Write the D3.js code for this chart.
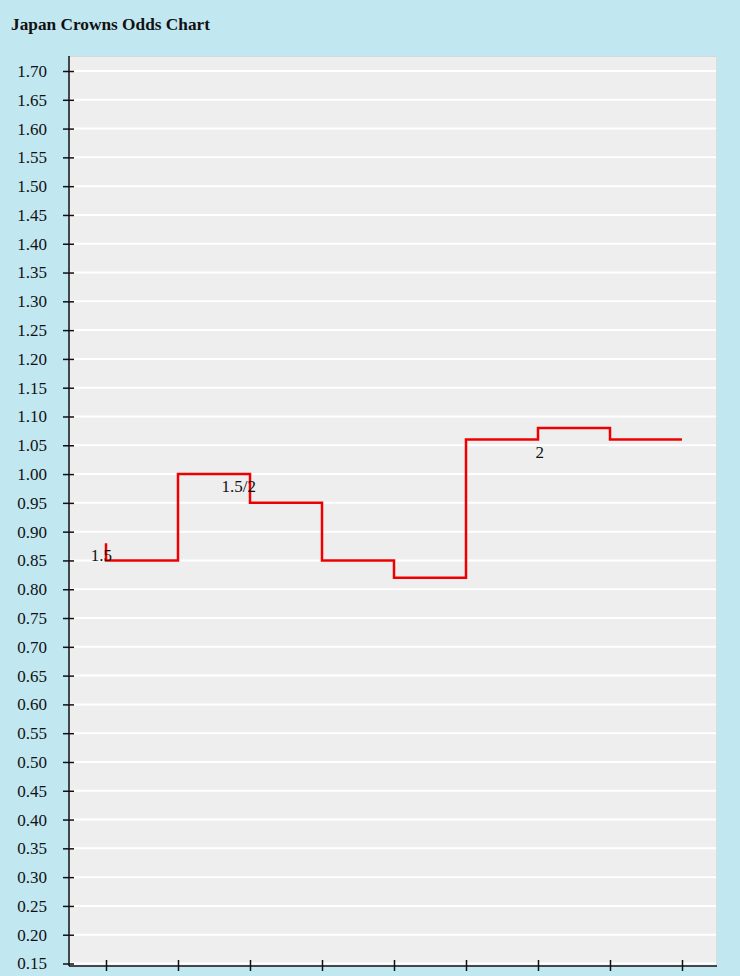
<!DOCTYPE html>
<html><head><meta charset="utf-8">
<script src="https://cdn.jsdelivr.net/npm/d3@7"></script>
<style>
html,body{margin:0;padding:0;background:#c1e7f1;}
svg{display:block;}
</style></head>
<body>
<svg id="chart" width="740" height="976"></svg>
<script>
const title = "Japan Crowns Odds Chart";
const categories = [0, 1, 2, 3, 4, 5, 6, 7, 8];
const odds = [0.88, 0.85, 1.00, 0.95, 0.85, 0.82, 1.06, 1.08, 1.06];
const handicapLabels = ["1.5", "", "1.5/2", "", "", "", "2", "", ""];
const yTicks = d3.range(0.15, 1.7001, 0.05).map(v => +v.toFixed(2));

(function () {
const svg = d3.select("#chart");
const pLeft = 69, pRight = 717, pTop = 56, pBottom = 966;

const x = d3.scalePoint().domain(categories).range([pLeft + 1, pRight + 1]).padding(0.5);
const y = d3.scaleLinear().domain([0.15, 1.70]).range([963.5, 71]);

svg.append("text").attr("x", 11).attr("y", 30)
  .attr("font-family", "Liberation Serif").attr("font-weight", "bold")
  .attr("font-size", 17.3).attr("fill", "#111").text(title);

// plot background
svg.append("rect").attr("x", pLeft).attr("y", pTop).attr("width", pRight - pLeft).attr("height", pBottom - pTop)
  .attr("fill", "#eeeeee");
svg.append("line").attr("x1", pLeft).attr("x2", pRight).attr("y1", pTop + 0.5).attr("y2", pTop + 0.5)
  .attr("stroke", "#d4d8da").attr("stroke-width", 1);
svg.append("line").attr("x1", pRight - 0.5).attr("x2", pRight - 0.5).attr("y1", pTop).attr("y2", pBottom)
  .attr("stroke", "#dcdcdc").attr("stroke-width", 1);

// grid
svg.append("g").selectAll("line").data(yTicks).join("line")
  .attr("x1", pLeft).attr("x2", pRight - 1)
  .attr("y1", d => y(d)).attr("y2", d => y(d))
  .attr("stroke", "#ffffff").attr("stroke-width", 2);

// y axis
const yAxis = svg.append("g").attr("transform", `translate(${pLeft},0)`)
  .call(d3.axisLeft(y).tickValues(yTicks).tickFormat(d3.format(".2f")).tickSize(6).tickPadding(16).tickSizeOuter(0));
yAxis.select(".domain").attr("d", `M0,${pTop}V${pBottom}`).attr("stroke", "#111").attr("stroke-width", 1.5);
yAxis.selectAll(".tick line").attr("x1", 5).attr("x2", -6).attr("stroke", "#111").attr("stroke-width", 1.5);
yAxis.selectAll(".tick text").attr("font-family", "Liberation Serif").attr("font-size", 17).attr("fill", "#111");

// x axis
const xAxis = svg.append("g").attr("transform", `translate(0,${pBottom})`)
  .call(d3.axisBottom(x).tickFormat("").tickSize(6).tickSizeOuter(0));
xAxis.select(".domain").attr("d", `M${pLeft},0H${pRight}`).attr("stroke", "#111").attr("stroke-width", 1.5);
xAxis.selectAll(".tick line").attr("y1", -6).attr("y2", 5).attr("stroke", "#111").attr("stroke-width", 1.5);

// step line
const line = d3.line().x((d, i) => x(categories[i])).y(d => y(d)).curve(d3.curveStepBefore);
svg.append("path").datum(odds).attr("d", line)
  .attr("fill", "none").attr("stroke", "#ee0000").attr("stroke-width", 2.5);

// handicap labels
svg.append("g").selectAll("text").data(odds.map((v, i) => ({v, i, t: handicapLabels[i]})).filter(d => d.t))
  .join("text")
  .attr("x", d => x(categories[d.i]) + 6).attr("y", d => y(d.v) + 18)
  .attr("text-anchor", "end")
  .attr("font-family", "Liberation Serif").attr("font-size", 17).attr("fill", "#111")
  .text(d => d.t);
})();
</script>
</body></html>
